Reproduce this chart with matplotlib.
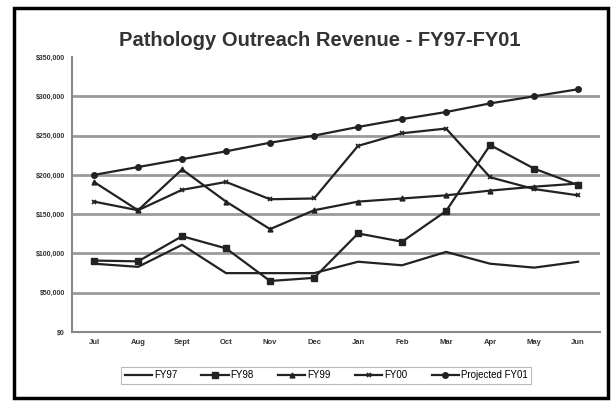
"""Pathology outreach revenue, FY97-FY01, monthly line chart."""
import numpy as np, matplotlib
matplotlib.use("Agg")
import matplotlib.pyplot as plt
from matplotlib.patches import Rectangle

plt.rcParams["font.family"] = ["Liberation Sans", "DejaVu Sans"]

months = ["Jul", "Aug", "Sept", "Oct", "Nov", "Dec", "Jan", "Feb", "Mar", "Apr", "May", "Jun"]
fy97 = [87000, 83000, 111000, 75000, 75000, 75000, 89500, 85000, 102000, 87000, 82000, 89500]
fy98 = [91000, 90000, 122000, 106500, 65000, 69000, 125500, 115000, 154000, 238000, 208000, 187000]
fy99 = [191000, 155000, 207000, 166000, 131000, 155000, 166000, 170000, 174000, 180000, 185000, 189000]
fy00 = [166000, 155000, 181000, 191000, 169000, 170000, 237000, 253000, 259000, 197000, 182000, 174000]
proj01 = [200000, 210000, 220000, 230000, 241000, 250000, 261000, 271000, 280000, 291000, 300000, 309000]
yticks = np.arange(0, 350001, 50000)

fig = plt.figure(figsize=(6.13, 4.03), dpi=100)
ax = fig.add_axes([0.1175, 0.176, 0.8615, 0.6825])
x = np.arange(len(months))
lw = 1.6
ax.plot(x, fy97, color="#222", lw=lw, label="FY97")
ax.plot(x, fy98, color="#222", lw=lw, marker="s", ms=5, label="FY98")
ax.plot(x, fy99, color="#222", lw=lw, marker="^", ms=3.5, label="FY99")
ax.plot(x, fy00, color="#222", lw=lw, marker="x", ms=3.5, mew=1.2, label="FY00")
ax.plot(x, proj01, color="#222", lw=lw, marker="o", ms=4, label="Projected FY01")

ax.set_xlim(-0.5, 11.5); ax.set_ylim(0, 350000)
for v in yticks[1:-1]:
    ax.axhline(v, color="#9a9a9a", lw=2, zorder=0)
ax.set_yticks(yticks)
ax.set_yticklabels([f"${v:,.0f}" for v in yticks], fontsize=5, fontweight="bold", color="#333")
ax.set_xticks(x); ax.set_xticklabels(months, fontsize=5.5, fontweight="bold", color="#333")
ax.tick_params(axis="both", length=0, pad=5)
for s in ["top", "right"]: ax.spines[s].set_visible(False)
for s in ["left", "bottom"]: ax.spines[s].set_color("#888"); ax.spines[s].set_linewidth(1.5)

fig.text(0.522, 0.9, "Pathology Outreach Revenue - FY97-FY01", ha="center", va="center",
         fontsize=14.5, fontweight="bold", color="#333")
leg = fig.legend(loc="center", bbox_to_anchor=(0.532, 0.069), ncol=5, fontsize=7, frameon=True,
                 fancybox=False, edgecolor="#aaa", handlelength=2.8, columnspacing=2.5, borderpad=0.35,
                 handletextpad=0.2)
leg.get_frame().set_linewidth(0.8)
fig.patches.append(Rectangle((14/613, 1-398/403), (608-14)/613, (398-8)/403, transform=fig.transFigure,
                             fill=False, edgecolor="black", lw=2.5))
fig.savefig("out.png", dpi=100)
